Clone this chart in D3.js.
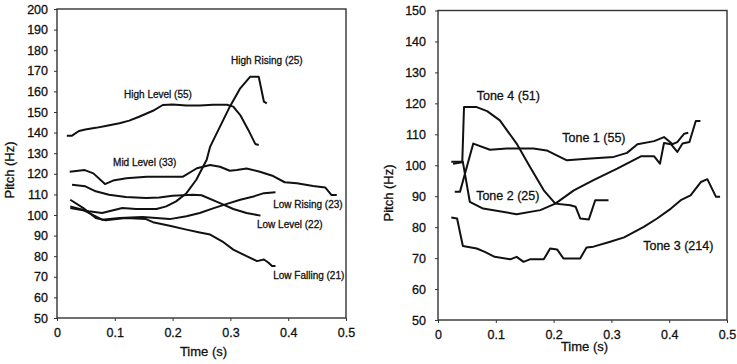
<!DOCTYPE html>
<html>
<head>
<meta charset="utf-8">
<script src="https://cdn.jsdelivr.net/npm/d3@7"></script>
<style>
  body { margin: 0; background: #fff; }
  svg { display: block; font-family: "Liberation Sans", Arial, sans-serif; }
  svg text { stroke: #111; stroke-width: 0.3px; }
  .axis path, .axis line { stroke: #333; }
  .axis text { fill: #111; font-size: 12.5px; }
</style>
</head>
<body>
<div id="chart"></div>
<script>
// pitch contours, [time (s), pitch (Hz)]
const highLevel = [[0.017,138.5],[0.026,138.5],[0.038,140.8],[0.049,141.5],[0.067,142.3],[0.084,143.2],[0.108,144.5],[0.125,145.8],[0.142,147.7],[0.166,150.6],[0.183,153.4],[0.2,153.7],[0.224,153.2],[0.247,153.2],[0.27,153.5],[0.294,153.5],[0.305,152.6],[0.317,148.5],[0.331,141.3],[0.343,134.5],[0.349,134]];
const highRising = [[0.023,103.4],[0.055,101.8],[0.078,101],[0.113,103.4],[0.137,102.9],[0.172,102.9],[0.189,104.2],[0.206,106.6],[0.224,110.6],[0.241,117.1],[0.259,126.8],[0.265,133.2],[0.282,142.9],[0.299,152.6],[0.317,161.5],[0.334,167.1],[0.349,167.1],[0.358,155],[0.363,154.2]];
const midLevel = [[0.022,121],[0.048,121.8],[0.063,120.2],[0.083,115],[0.097,116.7],[0.12,117.8],[0.155,118.6],[0.218,118.6],[0.242,122.7],[0.265,124.3],[0.282,123.4],[0.299,121.5],[0.311,121.8],[0.328,122.6],[0.351,121],[0.374,118.9],[0.394,115.9],[0.415,115.4],[0.443,114.1],[0.464,113.4],[0.475,109.7],[0.484,109.7]];
const lowRising = [[0.023,104.2],[0.044,102.6],[0.061,100.2],[0.078,97.7],[0.108,98.5],[0.148,99],[0.195,98],[0.224,99.4],[0.247,101],[0.27,103.2],[0.294,105.4],[0.317,107.4],[0.34,109],[0.358,110.6],[0.378,111]];
const lowLevel = [[0.026,114.7],[0.049,113.9],[0.067,111.5],[0.09,109.8],[0.119,108.7],[0.154,108.2],[0.177,108.5],[0.2,109.4],[0.235,109.8],[0.25,109.6],[0.282,105.8],[0.305,102.9],[0.328,101],[0.352,99.7]];
const lowFalling = [[0.023,107.4],[0.045,103.5],[0.067,98.5],[0.084,97.4],[0.119,98.5],[0.154,98],[0.166,96.5],[0.195,94.8],[0.224,92.9],[0.247,91.5],[0.265,90.5],[0.288,86.8],[0.305,83.2],[0.328,80],[0.346,77.6],[0.358,78.4],[0.366,76.8],[0.372,75.2],[0.378,75.2]];

const tone1 = [[0.029,91.4],[0.038,91.4],[0.061,107],[0.09,105],[0.119,105.4],[0.165,105.4],[0.188,104.8],[0.223,101.6],[0.264,102.2],[0.304,102.7],[0.327,104],[0.345,106.8],[0.374,107.8],[0.391,109.1],[0.406,106.8],[0.414,107.5],[0.426,110.2],[0.433,110.5]];
const tone2 = [[0.023,101.1],[0.043,101.1],[0.055,88.2],[0.078,86],[0.136,84.2],[0.177,85.5],[0.203,87.6],[0.235,91.9],[0.269,95.2],[0.31,98.9],[0.351,102.9],[0.374,102.9],[0.384,100.5],[0.391,107.2],[0.403,106.8],[0.414,104.3],[0.423,107],[0.435,107.5],[0.446,114.3],[0.454,114.3]];
const tone3 = [[0.023,83.1],[0.033,82.8],[0.043,73.9],[0.067,73.1],[0.081,72],[0.098,70.4],[0.125,69.6],[0.136,70.4],[0.148,68.8],[0.159,69.6],[0.183,69.6],[0.194,73.1],[0.206,72.8],[0.217,69.9],[0.246,69.9],[0.257,73.4],[0.269,73.7],[0.298,75.3],[0.322,76.7],[0.356,80.1],[0.379,82.8],[0.403,86],[0.42,88.7],[0.437,90.3],[0.455,94.6],[0.466,95.5],[0.481,89.8],[0.488,89.8]];
const tone4 = [[0.026,100.5],[0.042,101],[0.045,118.8],[0.067,118.8],[0.085,117.5],[0.107,114.5],[0.136,107],[0.159,99.5],[0.183,91.9],[0.203,87.6],[0.229,87.1],[0.238,86.6],[0.246,82.8],[0.261,82.5],[0.272,88.7],[0.295,88.7]];

const leftSeries = [highLevel, highRising, midLevel, lowRising, lowLevel, lowFalling];
const rightSeries = [tone1, tone2, tone3, tone4];

const leftLabels = ["High Rising (25)", "High Level (55)", "Mid Level (33)", "Low Rising (23)", "Low Level (22)", "Low Falling (21)"];
const leftLabelAt = [[0.301,175.2],[0.116,158.7],[0.097,125.7],[0.374,105.3],[0.346,95.6],[0.374,70.4]];
const rightLabels = ["Tone 4 (51)", "Tone 1 (55)", "Tone 2 (25)", "Tone 3 (214)"];
const rightLabelAt = [[0.067,122.4],[0.215,108.8],[0.066,90.1],[0.355,73.9]];

const timeTicks = [0, 0.1, 0.2, 0.3, 0.4, 0.5];
const leftPitchTicks = d3.range(50, 201, 10);
const rightPitchTicks = d3.range(50, 151, 10);

const svg = d3.select("#chart").append("svg")
  .attr("width", 737)
  .attr("height", 364);

function drawPanel(o) {
  const g = svg.append("g");

  const x = d3.scaleLinear().domain([0, 0.5]).range([o.left, o.right]);
  const y = d3.scaleLinear().domain(o.yDomain).range([o.bottom, o.top]);

  // box
  g.append("rect")
    .attr("x", o.left).attr("y", o.top)
    .attr("width", o.right - o.left).attr("height", o.bottom - o.top)
    .attr("fill", "none").attr("stroke", "#333").attr("stroke-width", 1.4);

  g.append("g")
    .attr("class", "axis")
    .attr("transform", `translate(0,${o.bottom})`)
    .call(d3.axisBottom(x).tickValues(timeTicks).tickSize(3).tickPadding(7)
      .tickFormat(d => d === 0 ? "0" : d3.format(".1f")(d)))
    .call(a => a.select(".domain").remove());

  g.append("g")
    .attr("class", "axis")
    .attr("transform", `translate(${o.left},0)`)
    .call(d3.axisLeft(y).tickValues(o.yTicks).tickSize(3).tickPadding(o.yPad))
    .call(a => a.select(".domain").remove());

  g.append("text")
    .attr("x", (o.left + o.right) / 2 + 2)
    .attr("y", o.xTitleY)
    .attr("text-anchor", "middle")
    .attr("font-size", 13)
    .attr("fill", "#111")
    .text("Time (s)");

  g.append("text")
    .attr("transform", `translate(${o.yTitleX},${o.yTitleY}) rotate(-90)`)
    .attr("text-anchor", "middle")
    .attr("font-size", 13)
    .attr("fill", "#111")
    .text("Pitch (Hz)");

  const line = d3.line()
    .x(d => x(d[0]))
    .y(d => y(d[1]));

  g.selectAll(".contour")
    .data(o.series)
    .enter().append("path")
    .attr("class", "contour")
    .attr("fill", "none")
    .attr("stroke", "#111")
    .attr("stroke-width", 2)
    .attr("stroke-linejoin", "round")
    .attr("d", line);

  g.selectAll(".lbl")
    .data(o.labels)
    .enter().append("text")
    .attr("class", "lbl")
    .attr("x", (d, i) => x(o.labelAt[i][0]))
    .attr("y", (d, i) => y(o.labelAt[i][1]))
    .attr("dy", "0.35em")
    .attr("font-size", o.labelSize)
    .attr("fill", "#111")
    .text(d => d);
}

drawPanel({
  left: 57, right: 346, top: 9, bottom: 318,
  yDomain: [50, 200], yTicks: leftPitchTicks, yPad: 6,
  xTitleY: 356, yTitleX: 14, yTitleY: 170,
  series: leftSeries, labels: leftLabels, labelAt: leftLabelAt, labelSize: 10
});

drawPanel({
  left: 438, right: 727, top: 10.5, bottom: 320,
  yDomain: [50, 150], yTicks: rightPitchTicks, yPad: 9,
  xTitleY: 351, yTitleX: 393, yTitleY: 193,
  series: rightSeries, labels: rightLabels, labelAt: rightLabelAt, labelSize: 12.5
});
</script>
</body>
</html>
